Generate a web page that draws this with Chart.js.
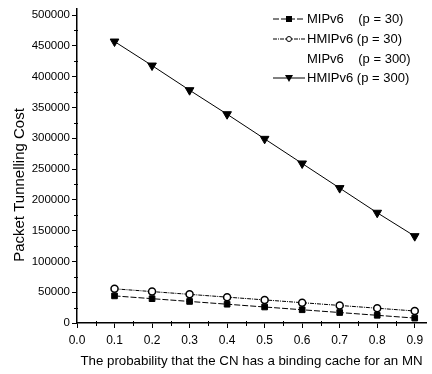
<!DOCTYPE html>
<html>
<head>
<meta charset="utf-8">
<script src="https://cdn.jsdelivr.net/npm/chart.js@4"></script>
<style>
  html, body { margin: 0; padding: 0; background: #fff; }
  #wrap { width: 432px; height: 374px; }
</style>
</head>
<body>
<div id="wrap"><canvas id="myChart" width="432" height="374"></canvas></div>
<script>
// x values: probability that the CN has a binding cache
const probs = [0.1, 0.2, 0.3, 0.4, 0.5, 0.6, 0.7, 0.8, 0.9];
const mipv6P30 = [44000, 39500, 35000, 30500, 26000, 21500, 17000, 12500, 8000];
const hmipv6P30 = [55500, 51000, 46500, 42000, 37500, 33000, 28500, 24000, 19500];
const mipv6P300 = [];
const hmipv6P300 = [457000, 418000, 378000, 339000, 299000, 259000, 219000, 179000, 141000];
const xTicks = [0.0, 0.1, 0.2, 0.3, 0.4, 0.5, 0.6, 0.7, 0.8, 0.9];
const yTicks = [0, 50000, 100000, 150000, 200000, 250000, 300000, 350000, 400000, 450000, 500000];
const seriesNames = ['MIPv6    (p = 30)', 'HMIPv6 (p = 30)', 'MIPv6    (p = 300)', 'HMIPv6 (p = 300)'];
const yTitle = 'Packet Tunnelling Cost';

const FONT = 'Liberation Sans, Arial, sans-serif';

const toPoints = (vals) => vals.map((v, i) => ({ x: probs[i], y: v }));

// minor ticks, y title and legend drawn by hand (legend has line+marker samples)
const extras = {
    id: 'extras',
    afterDraw(chart) {
        const ctx = chart.ctx;
        const xs = chart.scales.x, ys = chart.scales.y;
        ctx.save();
        ctx.strokeStyle = '#000';
        ctx.lineWidth = 1;
        // minor ticks
        for (let v = 0.05; v < 0.93; v += 0.1) {
            const px = Math.round(xs.getPixelForValue(v)) + 0.5;
            ctx.beginPath();
            ctx.moveTo(px, xs.top - 2);
            ctx.lineTo(px, xs.top + 3);
            ctx.stroke();
        }
        for (let v = 25000; v < 510000; v += 50000) {
            const py = Math.round(ys.getPixelForValue(v)) + 0.5;
            ctx.beginPath();
            ctx.moveTo(ys.right + 1, py);
            ctx.lineTo(ys.right - 3, py);
            ctx.stroke();
        }
        // y title (sits a bit below the axis middle in the original)
        ctx.fillStyle = '#000';
        ctx.font = '15px ' + FONT;
        ctx.textAlign = 'center';
        ctx.textBaseline = 'middle';
        ctx.save();
        ctx.translate(20, 185);
        ctx.rotate(-Math.PI / 2);
        ctx.fillText(yTitle, 0, 0);
        ctx.restore();
        // legend
        ctx.font = '13px ' + FONT;
        ctx.textAlign = 'left';
        const rows = [19, 39, 59, 78];
        chart.data.datasets.forEach((ds, i) => {
            const y = rows[i];
            if (ds.showInLegendSample) {
                ctx.setLineDash(ds.borderDash || []);
                ctx.beginPath();
                ctx.moveTo(273, y);
                ctx.lineTo(305, y);
                ctx.stroke();
                ctx.setLineDash([]);
                const m = ds.pointStyle;
                if (m === 'rect') {
                    ctx.fillRect(286, y - 3, 6, 6);
                } else if (m === 'circle') {
                    ctx.beginPath();
                    ctx.arc(289, y, 2.5, 0, Math.PI * 2);
                    ctx.fillStyle = '#fff';
                    ctx.fill();
                    ctx.stroke();
                    ctx.fillStyle = '#000';
                } else if (m === 'triangle') {
                    ctx.beginPath();
                    ctx.moveTo(285, y - 3);
                    ctx.lineTo(293, y - 3);
                    ctx.lineTo(289, y + 4);
                    ctx.closePath();
                    ctx.fill();
                }
            }
            ctx.fillText(seriesNames[i], 307, y);
        });
        ctx.restore();
    }
};

new Chart(document.getElementById('myChart'), {
    type: 'line',
    data: {
        datasets: [
            {
                label: seriesNames[0],
                data: toPoints(mipv6P30),
                borderColor: '#000',
                backgroundColor: '#000',
                borderWidth: 1,
                borderDash: [6, 2],
                pointStyle: 'rect',
                pointRadius: 4,
                showInLegendSample: true,
            },
            {
                label: seriesNames[1],
                data: toPoints(hmipv6P30),
                borderColor: '#000',
                backgroundColor: '#fff',
                borderWidth: 1,
                borderDash: [4, 1, 1, 1],
                pointStyle: 'circle',
                pointRadius: 3.5,
                pointBorderWidth: 1.5,
                showInLegendSample: true,
            },
            {
                label: seriesNames[2],
                data: toPoints(mipv6P300),
                borderColor: 'rgba(0,0,0,0)',
                pointRadius: 0,
                showInLegendSample: false,
            },
            {
                label: seriesNames[3],
                data: toPoints(hmipv6P300),
                borderColor: '#000',
                backgroundColor: '#000',
                borderWidth: 1,
                pointStyle: 'triangle',
                pointRotation: 180,
                pointRadius: 5,
                showInLegendSample: true,
            },
        ],
    },
    options: {
        responsive: false,
        animation: false,
        layout: { padding: { top: 6, right: 4, left: 0, bottom: 0 } },
        plugins: {
            legend: { display: false },
            tooltip: { enabled: false },
        },
        scales: {
            x: {
                type: 'linear',
                min: 0,
                max: 0.93,
                afterBuildTicks: (s) => { s.ticks = xTicks.map(v => ({ value: v })); },
                afterFit: (s) => { s.height = 51; },
                border: { display: true, color: '#000', width: 1.5 },
                grid: { drawOnChartArea: false, drawTicks: true, tickLength: 5, color: '#000' },
                ticks: {
                    color: '#000',
                    font: { family: FONT, size: 12 },
                    padding: 5,
                    maxRotation: 0,
                    callback: (v) => v.toFixed(1),
                },
                title: {
                    display: true,
                    text: 'The probability that the CN has a binding cache for an MN',
                    color: '#000',
                    font: { family: FONT, size: 13.3 },
                    padding: { top: 2, bottom: 5 },
                },
            },
            y: {
                min: 0,
                max: 510000,
                afterBuildTicks: (s) => { s.ticks = yTicks.map(v => ({ value: v })); },
                afterFit: (s) => { s.width = 77; },
                border: { display: true, color: '#000', width: 1.5 },
                grid: { drawOnChartArea: false, drawTicks: true, tickLength: 5, color: '#000' },
                ticks: {
                    color: '#000',
                    font: { family: FONT, size: 11.5 },
                    padding: 2,
                    callback: (v) => String(v),
                },
            },
        },
    },
    plugins: [extras],
});
</script>
</body>
</html>
